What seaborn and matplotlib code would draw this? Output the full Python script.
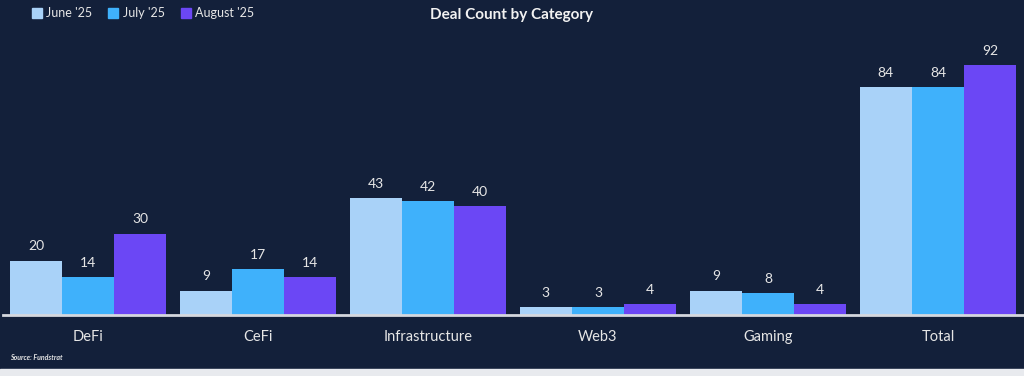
import matplotlib.pyplot as plt
import matplotlib.patches as mpatches
import pandas as pd
import seaborn as sns

categories = ['DeFi', 'CeFi', 'Infrastructure', 'Web3', 'Gaming', 'Total']
months = ["June '25", "July '25", "August '25"]
june = [20, 9, 43, 3, 9, 84]
july = [14, 17, 42, 3, 8, 84]
august = [30, 14, 40, 4, 4, 92]

colors = ['#A9D2F8', '#3FB1FB', '#6B47F5']
bg = '#13203A'
text_col = '#E6E6E6'

df = pd.DataFrame({
    'Category': categories * 3,
    'Month': [months[0]] * 6 + [months[1]] * 6 + [months[2]] * 6,
    'Deals': june + july + august,
})

sns.set_theme(style='white')
plt.rcParams['font.family'] = ['Lato', 'DejaVu Sans']

fig = plt.figure(figsize=(10.24, 3.76), dpi=100, facecolor=bg)
ax = fig.add_axes([3 / 1024, 1 - 315 / 376, 1020 / 1024, (315 - 30) / 376])
ax.set_facecolor(bg)

sns.barplot(data=df, x='Category', y='Deals', hue='Month', order=categories,
            hue_order=months, palette=colors, width=0.92, gap=0,
            saturation=1, linewidth=0, ax=ax, legend=False)

for cont in ax.containers:
    ax.bar_label(cont, padding=6, color=text_col, fontsize=10)

ax.set_xlim(-0.5, 5.5)
ax.set_ylim(0, 105)
ax.set_xlabel('')
ax.set_ylabel('')
ax.set_yticks([])
ax.tick_params(axis='x', length=0, pad=11, labelsize=10.5, labelcolor=text_col)
for s in ['top', 'right', 'left']:
    ax.spines[s].set_visible(False)
ax.spines['bottom'].set_color('#D5D8DE')
ax.spines['bottom'].set_linewidth(2)

handles = [mpatches.Patch(color=c, label=m) for c, m in zip(colors, months)]
leg = fig.legend(handles=handles, loc='upper left', bbox_to_anchor=(0.02, 1.01),
                 ncol=3, frameon=False, fontsize=9, handlelength=0.8,
                 handleheight=0.8, handletextpad=0.35, columnspacing=1.3)
for t in leg.get_texts():
    t.set_color(text_col)

fig.text(0.5, 1 - 15 / 376, 'Deal Count by Category', ha='center', va='center',
         fontsize=11, fontweight='bold', color='#F2F2F2')
fig.text(10 / 1024, 1 - 357 / 376, 'Source: Fundstrat', ha='left', va='center',
         fontsize=5, fontweight='bold', fontstyle='italic', color=text_col)

# light strip along bottom edge of the screenshot
fig.patches.append(mpatches.Rectangle((0, 0), 1, 7 / 376, transform=fig.transFigure,
                                      color='#E8EAEE', zorder=-1))

fig.savefig('out.png', dpi=100, facecolor=bg)
